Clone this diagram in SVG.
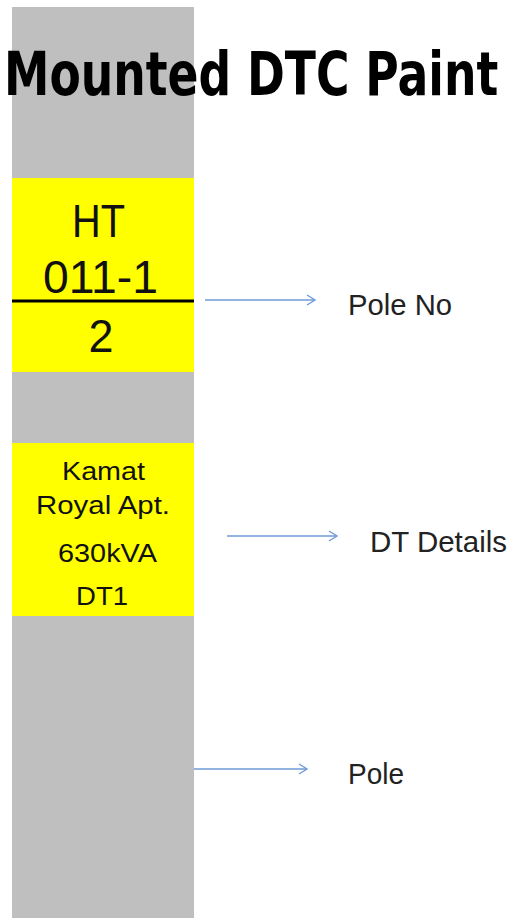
<svg xmlns="http://www.w3.org/2000/svg" width="510" height="918" viewBox="0 0 510 918">
<defs>
<style>
.t{font-family:"Liberation Sans","DejaVu Sans",sans-serif;fill:#111}
.lbl{font-family:"Liberation Sans","DejaVu Sans",sans-serif;fill:#222;font-size:29px}
.con{stroke:#6f9bd6;stroke-width:1.4;fill:none}
.box{fill:#ffff00}
</style>
<marker id="ah" markerWidth="12" markerHeight="12" refX="9" refY="6" orient="auto" markerUnits="userSpaceOnUse">
<path d="M1,1 L9,6 L1,11" fill="none" stroke="#6f9bd6" stroke-width="1.4"/>
</marker>
</defs>
<rect width="510" height="918" fill="#ffffff"/>
<g id="pole"><rect x="12" y="7" width="182" height="911" fill="#bfbfbf"/></g>
<g id="title" transform="scale(0.758,1)">
<text x="5.3" y="95" font-family="DejaVu Sans,sans-serif" font-weight="bold" font-size="60" fill="#000" textLength="652" lengthAdjust="spacingAndGlyphs">Mounted DTC Paint</text>
</g>
<g id="pole-no-plate">
<rect class="box" x="12" y="178" width="182" height="194"/>
<line x1="12" y1="301" x2="194" y2="301" stroke="#000" stroke-width="3"/>
<text class="t" x="98.5" y="237" font-size="46" text-anchor="middle" textLength="53" lengthAdjust="spacingAndGlyphs">HT</text>
<text class="t" x="100.5" y="293" font-size="46" text-anchor="middle" textLength="115" lengthAdjust="spacingAndGlyphs">011-1</text>
<text class="t" x="101" y="352" font-size="46" text-anchor="middle" textLength="25" lengthAdjust="spacingAndGlyphs">2</text>
</g>
<g id="dt-details-plate">
<rect class="box" x="12" y="443" width="182" height="173"/>
<text class="t" x="103.5" y="480" font-size="25" text-anchor="middle" textLength="83" lengthAdjust="spacingAndGlyphs">Kamat</text>
<text class="t" x="103" y="514" font-size="25" text-anchor="middle" textLength="134" lengthAdjust="spacingAndGlyphs">Royal Apt.</text>
<text class="t" x="107.5" y="562" font-size="25" text-anchor="middle" textLength="99" lengthAdjust="spacingAndGlyphs">630kVA</text>
<text class="t" x="102" y="605" font-size="25" text-anchor="middle" textLength="52" lengthAdjust="spacingAndGlyphs">DT1</text>
</g>
<g id="connectors">
<line class="con" x1="205" y1="300" x2="315" y2="300" marker-end="url(#ah)"/>
<line class="con" x1="227" y1="536" x2="337" y2="536" marker-end="url(#ah)"/>
<line class="con" x1="194" y1="769" x2="307" y2="769" marker-end="url(#ah)"/>
</g>
<g id="label-pole-no"><text class="lbl" x="348" y="315" textLength="104" lengthAdjust="spacingAndGlyphs">Pole No</text></g>
<g id="label-dt-details"><text class="lbl" x="370" y="552" textLength="137" lengthAdjust="spacingAndGlyphs">DT Details</text></g>
<g id="label-pole"><text class="lbl" x="348" y="784" textLength="56" lengthAdjust="spacingAndGlyphs">Pole</text></g>
</svg>
